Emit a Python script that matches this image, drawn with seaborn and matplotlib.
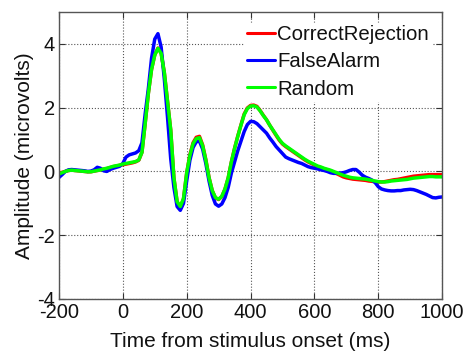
import numpy as np
import pandas as pd
import seaborn as sns
import matplotlib.pyplot as plt

# Tiempo (ms), cada 10 ms
time_ms = list(range(-200, 1001, 10))

random_uv = [
    -0.08, -0.04, 0.00, 0.03, 0.04, 0.03, 0.02, 0.01, 0.00, -0.01,
    -0.01, 0.01, 0.03, 0.05, 0.08, 0.10, 0.13, 0.16, 0.18, 0.20,
    0.23, 0.25, 0.27, 0.29, 0.31, 0.36, 0.60, 1.50, 2.45, 3.20,
    3.65, 3.86, 3.70, 3.10, 2.20, 1.30, -0.20, -0.95, -1.10, -0.85,
    -0.05, 0.50, 0.87, 1.03, 1.06, 0.80, 0.35, -0.20, -0.60, -0.82,
    -0.87, -0.78, -0.55, -0.20, 0.30, 0.72, 1.10, 1.45, 1.78, 1.97,
    2.05, 2.06, 2.02, 1.90, 1.75, 1.62, 1.45, 1.30, 1.15, 1.00,
    0.88, 0.80, 0.73, 0.66, 0.59, 0.52, 0.45, 0.38, 0.32, 0.27,
    0.22, 0.17, 0.14, 0.10, 0.07, 0.04, 0.00, -0.04, -0.08, -0.12,
    -0.15, -0.18, -0.20, -0.21, -0.22, -0.23, -0.24, -0.26, -0.28, -0.30,
    -0.32, -0.33, -0.33, -0.32, -0.30, -0.29, -0.28, -0.27, -0.26, -0.25,
    -0.23, -0.21, -0.20, -0.19, -0.18, -0.17, -0.16, -0.16, -0.17, -0.17,
    -0.17,
]

correct_rejection_uv = [
    -0.05, -0.03, 0.00, 0.03, 0.04, 0.03, 0.02, 0.01, 0.00, -0.01,
    -0.01, 0.01, 0.03, 0.05, 0.07, 0.09, 0.12, 0.15, 0.17, 0.19,
    0.21, 0.23, 0.25, 0.27, 0.30, 0.35, 0.60, 1.50, 2.45, 3.20,
    3.65, 3.87, 3.72, 3.10, 2.20, 1.30, -0.20, -0.95, -1.12, -0.86,
    -0.05, 0.52, 0.90, 1.07, 1.10, 0.83, 0.37, -0.19, -0.60, -0.83,
    -0.88, -0.79, -0.55, -0.20, 0.30, 0.73, 1.11, 1.46, 1.80, 1.99,
    2.07, 2.08, 2.04, 1.91, 1.76, 1.62, 1.45, 1.29, 1.13, 0.98,
    0.86, 0.78, 0.71, 0.64, 0.57, 0.50, 0.43, 0.36, 0.30, 0.25,
    0.20, 0.15, 0.12, 0.08, 0.05, 0.02, -0.02, -0.07, -0.12, -0.17,
    -0.20, -0.22, -0.24, -0.25, -0.26, -0.27, -0.28, -0.30, -0.31, -0.32,
    -0.33, -0.33, -0.32, -0.30, -0.28, -0.26, -0.25, -0.23, -0.21, -0.19,
    -0.17, -0.15, -0.14, -0.13, -0.12, -0.11, -0.10, -0.10, -0.10, -0.10,
    -0.10,
]

false_alarm_uv = [
    -0.19, -0.10, 0.00, 0.05, 0.06, 0.05, 0.04, 0.03, 0.02, 0.00,
    0.01, 0.05, 0.13, 0.10, 0.02, 0.00, 0.06, 0.10, 0.13, 0.16,
    0.25, 0.45, 0.52, 0.55, 0.58, 0.65, 0.90, 1.80, 2.60, 3.55,
    4.15, 4.32, 3.90, 2.90, 1.70, 0.40, -0.50, -1.10, -1.22, -1.00,
    -0.30, 0.35, 0.75, 0.93, 0.95, 0.70, 0.25, -0.30, -0.75, -1.02,
    -1.09, -1.02, -0.82, -0.50, -0.05, 0.30, 0.65, 0.95, 1.25, 1.47,
    1.57, 1.56, 1.50, 1.40, 1.30, 1.20, 1.05, 0.92, 0.78, 0.67,
    0.56, 0.45, 0.40, 0.36, 0.32, 0.28, 0.25, 0.20, 0.15, 0.12,
    0.10, 0.08, 0.05, 0.03, 0.00, -0.04, -0.06, -0.06, -0.05, -0.04,
    -0.01, 0.03, 0.06, 0.06, -0.02, -0.12, -0.18, -0.22, -0.27, -0.35,
    -0.48, -0.55, -0.58, -0.60, -0.61, -0.61, -0.60, -0.60, -0.58, -0.57,
    -0.56, -0.57, -0.60, -0.64, -0.68, -0.72, -0.77, -0.82, -0.83, -0.81,
    -0.80,
]

condiciones = ["CorrectRejection", "FalseAlarm", "Random"]
colores = ["#ff0000", "#0000ff", "#00ff00"]

df = pd.DataFrame({
    "time": time_ms * 3,
    "amp": correct_rejection_uv + false_alarm_uv + random_uv,
    "cond": ["CorrectRejection"] * len(time_ms) + ["FalseAlarm"] * len(time_ms) + ["Random"] * len(time_ms),
})

sns.set_style("white")
plt.rcParams["font.family"] = ["Liberation Sans", "DejaVu Sans"]
plt.rcParams["axes.unicode_minus"] = False

fig = plt.figure(figsize=(4.64, 3.53), dpi=100)
ax = fig.add_axes([0.127, 0.153, 0.826, 0.813])

sns.lineplot(data=df, x="time", y="amp", hue="cond", hue_order=condiciones,
             palette=colores, linewidth=2.5, ax=ax, legend=False)

ax.set_xlim(-200, 1000)
ax.set_ylim(-4, 5)
ax.set_xticks(range(-200, 1001, 200))
ax.set_yticks([-4, -2, 0, 2, 4])
ax.grid(True, linestyle=":", color="#555555", linewidth=0.8)
ax.tick_params(direction="in", length=4, labelsize=14.5, top=True, right=True,
               bottom=True, left=True, width=0.8, color="#333333", pad=3,
               labelcolor="#111111")
for s in ax.spines.values():
    s.set_color("#555555")
    s.set_linewidth(1.0)

ax.set_xlabel("Time from stimulus onset (ms)", fontsize=15, labelpad=7, color="#111111")
ax.set_ylabel("Amplitude (microvolts)", fontsize=15, labelpad=2, color="#111111")

handles = [plt.Line2D([], [], color=c, linewidth=2.2) for c in colores]
leg = ax.legend(handles, condiciones, loc="upper right", fontsize=14.7,
                frameon=True, fancybox=False, handlelength=1.4,
                handletextpad=0.1, labelspacing=0.4, borderpad=0.1,
                borderaxespad=0.55)
leg.get_frame().set_edgecolor("white")
leg.get_frame().set_facecolor("white")
leg.get_frame().set_alpha(1)
for t in leg.get_texts():
    t.set_color("#111111")

fig.savefig("out.png", dpi=100)
